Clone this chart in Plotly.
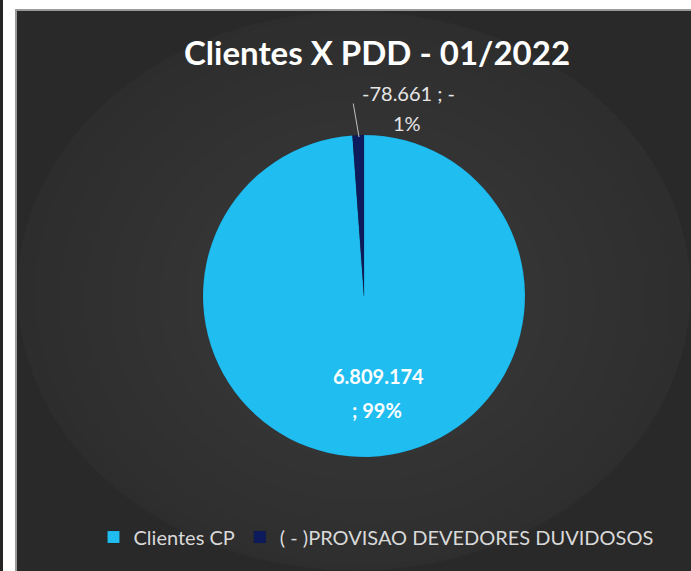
import plotly.graph_objects as go

# ---- data ----
labels = ["Clientes CP", "( - )PROVISAO DEVEDORES DUVIDOSOS"]
values = [6809174, -78661]
pct_labels = ["99%", "1%"]
title_text = "Clientes X PDD - 01/2022"
colors = ["#20bdf1", "#0d1b5c"]

W, H = 691, 571


def fmt_br(v):
    return f"{v:,.0f}".replace(",", ".")


def px(x):
    return x / W


def py(y):
    return 1 - y / H


fig = go.Figure()
fig.add_trace(go.Pie(
    labels=labels,
    values=[abs(v) for v in values],
    sort=False,
    direction="clockwise",
    rotation=0,
    marker=dict(colors=colors, line=dict(color="rgba(0,0,0,0.15)", width=0.5)),
    textinfo="none",
    hoverinfo="label+value",
    domain=dict(x=[px(203), px(525)], y=[py(457), py(135)]),
))

shapes = [
    dict(type="rect", xref="paper", yref="paper", x0=0, x1=px(3), y0=0, y1=1,
         fillcolor="#252525", line_width=0, layer="below"),
    dict(type="rect", xref="paper", yref="paper", x0=px(15), x1=1, y0=0, y1=py(9),
         fillcolor="#9a9a9a", line_width=0, layer="below"),
    dict(type="rect", xref="paper", yref="paper", x0=px(17), x1=1, y0=0, y1=py(11),
         fillcolor="#292929", line_width=0, layer="below"),
]
# soft radial glow (stacked translucent ellipses)
cx, cy = 365, 300
n = 16
for i in range(n):
    rx = 430 - i * 25
    ry = 370 - i * 21
    shapes.append(dict(type="circle", xref="paper", yref="paper",
                       x0=px(max(cx - rx, 17)), x1=px(min(cx + rx, W)),
                       y0=py(min(cy + ry, H)), y1=py(max(cy - ry, 11)),
                       fillcolor="rgba(255,255,255,0.009)", line_width=0, layer="below"))

annotations = [
    dict(text=f"<b>{title_text}</b>", x=px(377), y=py(52), xref="paper", yref="paper",
         showarrow=False, font=dict(family="Lato", size=33, color="#ffffff"),
         xanchor="center", yanchor="middle"),
    dict(text=f"<b>{fmt_br(values[0])}</b>", x=px(378.5), y=py(376),
         xref="paper", yref="paper", showarrow=False,
         font=dict(family="Lato", size=20, color="#ffffff"),
         xanchor="center", yanchor="middle"),
    dict(text=f"<b>; {pct_labels[0]}</b>", x=px(377), y=py(410),
         xref="paper", yref="paper", showarrow=False,
         font=dict(family="Lato", size=20, color="#ffffff"),
         xanchor="center", yanchor="middle"),
    dict(text=f"{fmt_br(values[1])} ; -", x=px(408), y=py(93),
         xref="paper", yref="paper", showarrow=False,
         font=dict(family="Lato", size=20, color="#e6e6e6"),
         xanchor="center", yanchor="middle"),
    dict(text=f"{pct_labels[1]}", x=px(407), y=py(123),
         xref="paper", yref="paper", showarrow=False,
         font=dict(family="Lato", size=20, color="#e6e6e6"),
         xanchor="center", yanchor="middle"),
    dict(text="", x=px(359), y=py(137), xref="paper", yref="paper",
         ax=-6, ay=-35, showarrow=True, arrowhead=0, arrowwidth=1, arrowcolor="#bfbfbf"),
]

fig.update_layout(
    width=W, height=H,
    margin=dict(l=0, r=0, t=0, b=0),
    paper_bgcolor="#ffffff",
    plot_bgcolor="rgba(0,0,0,0)",
    shapes=shapes,
    annotations=annotations,
    showlegend=True,
    legend=dict(orientation="h", x=px(376), xanchor="center", y=py(537), yanchor="middle",
                font=dict(family="Lato", size=20, color="#d9d9d9"),
                bgcolor="rgba(0,0,0,0)", itemwidth=30),
)

fig.write_html("out.html", post_script="document.body.style.margin='0';",
               config={"displayModeBar": False})
